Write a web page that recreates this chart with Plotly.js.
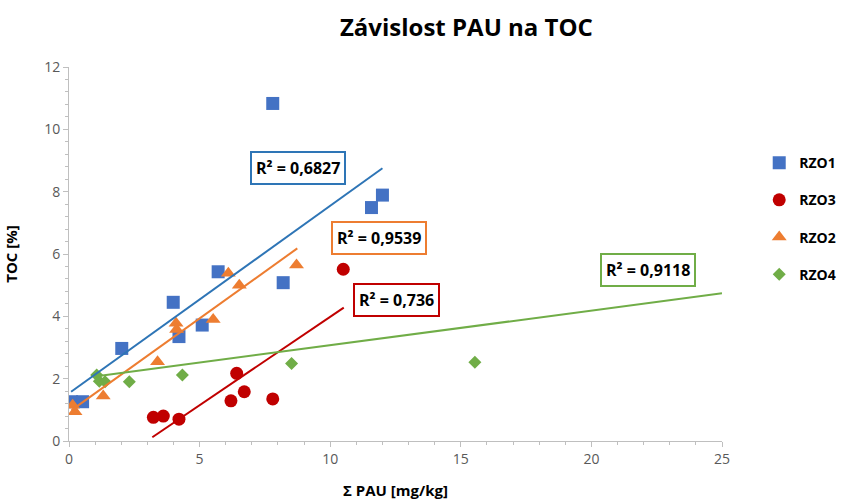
<!DOCTYPE html>
<html>
<head>
<meta charset="utf-8">
<script src="https://cdn.plot.ly/plotly-3.0.1.min.js"></script>
<style>
  html, body { margin: 0; padding: 0; background: #fff; }
  #plot { width: 848px; height: 503px; }
</style>
</head>
<body>
<div id="plot"></div>
<script>
// values
const rzo1X = [0.10, 0.52, 2.02, 3.99, 4.21, 5.10, 5.71, 7.80, 8.20, 11.58, 12.00];
const rzo1Y = [1.26, 1.26, 2.97, 4.45, 3.35, 3.72, 5.43, 10.83, 5.08, 7.49, 7.89];

const rzo3X = [3.23, 3.61, 4.21, 6.20, 6.42, 6.71, 7.80, 10.50];
const rzo3Y = [0.76, 0.80, 0.70, 1.29, 2.17, 1.58, 1.35, 5.51];

const rzo2X = [0.14, 0.23, 1.31, 3.39, 4.10, 4.12, 5.52, 6.10, 6.52, 8.71];
const rzo2Y = [1.15, 0.94, 1.44, 2.54, 3.78, 3.58, 3.90, 5.38, 5.00, 5.65];

const rzo4X = [1.06, 1.16, 1.38, 2.31, 4.34, 8.52, 15.54];
const rzo4Y = [2.12, 1.92, 1.90, 1.90, 2.12, 2.49, 2.53];

// trendline end points (start, end)
const trend1X = [0.08, 12.0];  const trend1Y = [1.58, 8.75];
const trend3X = [3.19, 10.52]; const trend3Y = [0.12, 4.28];
const trend2X = [0.10, 8.74];  const trend2Y = [0.99, 6.18];
const trend4X = [1.06, 25.0];  const trend4Y = [2.08, 4.74];

const r2Labels = ['R² = 0,6827', 'R² = 0,736', 'R² = 0,9539', 'R² = 0,9118'];
const r2X = [8.76, 12.52, 11.86, 22.16];
const r2Y = [8.76, 4.52, 6.51, 5.49];

const colors = ['#4472C4', '#C00000', '#ED7D31', '#70AD47'];
const lineColors = ['#2E75B6', '#C00000', '#ED7D31', '#70AD47'];

var font = 'Open Sans, sans-serif';

var data = [
  { x: rzo1X, y: rzo1Y, type: 'scatter', mode: 'markers', name: 'RZO1', legendgroup: 'a',
    marker: { symbol: 'square', size: 13, color: colors[0] } },
  { x: rzo3X, y: rzo3Y, type: 'scatter', mode: 'markers', name: 'RZO3', legendgroup: 'b',
    marker: { symbol: 'circle', size: 13, color: colors[1] } },
  { x: rzo2X, y: rzo2Y, type: 'scatter', mode: 'markers', name: 'RZO2', legendgroup: 'c',
    marker: { symbol: 'triangle-up', size: 13, color: colors[2] } },
  { x: rzo4X, y: rzo4Y, type: 'scatter', mode: 'markers', name: 'RZO4', legendgroup: 'd',
    marker: { symbol: 'diamond', size: 10, color: colors[3] } },
  { x: trend1X, y: trend1Y, type: 'scatter', mode: 'lines', showlegend: false, hoverinfo: 'skip',
    line: { color: lineColors[0], width: 2 } },
  { x: trend3X, y: trend3Y, type: 'scatter', mode: 'lines', showlegend: false, hoverinfo: 'skip',
    line: { color: lineColors[1], width: 2 } },
  { x: trend2X, y: trend2Y, type: 'scatter', mode: 'lines', showlegend: false, hoverinfo: 'skip',
    line: { color: lineColors[2], width: 2 } },
  { x: trend4X, y: trend4Y, type: 'scatter', mode: 'lines', showlegend: false, hoverinfo: 'skip',
    line: { color: lineColors[3], width: 2 } }
];

var annotations = r2Labels.map(function (t, i) {
  return {
    x: r2X[i], y: r2Y[i], xref: 'x', yref: 'y', text: t, showarrow: false,
    font: { family: font, size: 16, color: '#000', weight: 'bold' },
    bordercolor: lineColors[i], borderwidth: 2, borderpad: 4, bgcolor: '#fff'
  };
});

var axisCommon = {
  showgrid: false, zeroline: false, showline: true, linecolor: '#BFBFBF', linewidth: 1,
  ticks: 'outside', tickcolor: '#BFBFBF', ticklen: 5,
  tickfont: { family: font, size: 14, color: '#595959' }
};

var layout = {
  width: 848, height: 503,
  margin: { l: 69, r: 126, t: 67, b: 62, autoexpand: false },
  paper_bgcolor: '#fff', plot_bgcolor: '#fff',
  title: { text: '<b>Závislost PAU na TOC</b>', x: 0.55, xanchor: 'center', y: 0.945, yanchor: 'middle',
    font: { family: font, size: 24, color: '#000' } },
  xaxis: Object.assign({}, axisCommon, {
    range: [0, 25], dtick: 5, tick0: 0, automargin: false,
    minor: { dtick: 1, ticks: 'outside', ticklen: 3, tickcolor: '#BFBFBF' },
    title: { text: '<b>Σ PAU [mg/kg]</b>', standoff: 18, font: { family: font, size: 15, color: '#000' } }
  }),
  yaxis: Object.assign({}, axisCommon, {
    range: [0, 12], dtick: 2, tick0: 0, automargin: false,
    minor: { dtick: 0.4, ticks: 'outside', ticklen: 3, tickcolor: '#BFBFBF' },
    title: { text: '<b>TOC [%]</b>', standoff: 22, font: { family: font, size: 15, color: '#000' } }
  }),
  legend: { x: 1.057, xanchor: 'left', y: 0.786, yanchor: 'top', tracegroupgap: 16,
    font: { family: font, size: 14, color: '#000', weight: 'bold' } },
  annotations: annotations,
  showlegend: true
};

Plotly.newPlot('plot', data, layout, { staticPlot: true });
</script>
</body>
</html>
